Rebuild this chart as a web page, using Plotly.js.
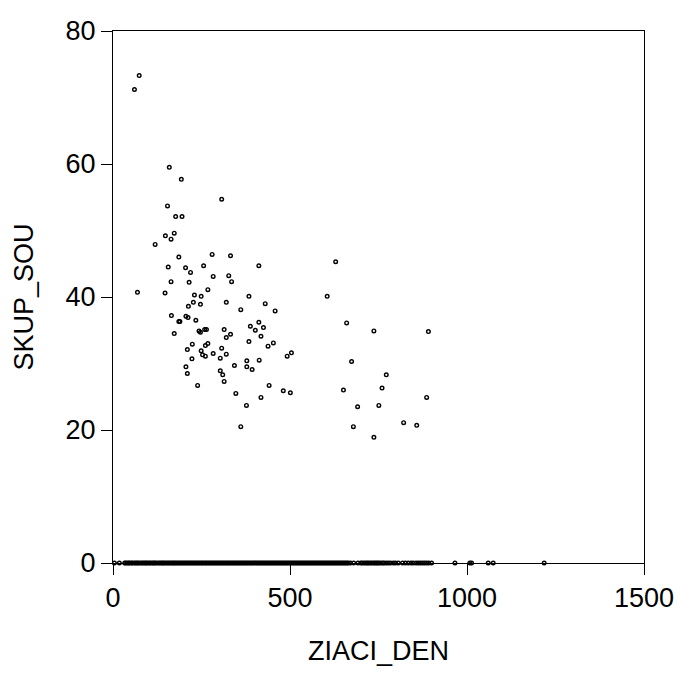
<!DOCTYPE html>
<html>
<head>
<meta charset="utf-8">
<script src="https://cdn.plot.ly/plotly-3.0.1.min.js"></script>
<style>html,body{margin:0;padding:0;background:#fff;}</style>
</head>
<body>
<div id="chart" style="width:677px;height:696px;"></div>
<script>
// Non-zero observations (ZIACI_DEN, SKUP_SOU)
const ziaciDen = [60.6,74,69,159,193,307,154,177,195,173,148,164,119,186,280,332,629,156,205,256,412,219,283,327,164,215,335,268,147,230,249,384,605,227,320,430,213,247,361,458,165,206,212,186,189,234,412,660,388,425,402,259,264,243,247,314,737,891,173,332,418,320,384,268,224,453,261,438,307,210,249,283,320,253,504,261,492,303,223,413,378,674,343,206,378,393,303,772,210,310,314,239,441,760,651,481,501,347,418,886,377,691,751,821,858,361,679,737];
const skupSou = [71.2,73.3,40.7,59.5,57.7,54.7,53.7,52.1,52.1,49.6,49.2,48.7,47.9,46.0,46.4,46.2,45.3,44.5,44.4,44.7,44.7,43.7,43.1,43.2,42.3,42.2,42.3,41.1,40.6,40.3,40.1,40.1,40.1,39.2,39.2,39.0,38.6,38.9,38.1,37.9,37.2,37.1,36.9,36.3,36.3,36.5,36.2,36.1,35.6,35.4,35.0,35.1,35.1,34.9,34.7,35.1,34.9,34.8,34.5,34.4,34.1,33.9,33.3,33.0,32.9,33.1,32.7,32.6,32.3,32.1,31.9,31.5,31.4,31.3,31.6,31.1,31.1,30.8,30.7,30.5,30.4,30.3,29.7,29.5,29.5,29.1,28.9,28.3,28.5,28.3,27.3,26.7,26.7,26.3,26.0,25.9,25.6,25.5,24.9,24.9,23.7,23.5,23.7,21.1,20.7,20.5,20.5,18.9];
// Observations with SKUP_SOU = 0
const ziaciDenZero = [4,18,33,36,40,44,47,52,55,60,64,68,71,76,80,84,88,92,95,99,103,107,111,115,118,122,127,131,135,139,142,146,150,154,158,162,166,170,173,177,181,185,189,193,197,201,205,209,213,217,221,225,229,233,237,241,245,249,253,257,261,265,269,273,277,281,285,289,293,297,301,305,309,313,317,321,325,329,333,337,341,345,349,353,357,361,365,369,373,377,381,385,389,393,397,401,405,409,413,417,421,425,429,433,437,441,445,449,453,457,461,465,469,473,477,481,485,489,493,497,501,505,509,513,517,521,525,529,533,537,541,545,549,553,557,561,565,569,573,577,581,585,589,593,597,601,605,609,613,617,621,625,629,633,637,641,645,649,653,657,661,665,671,680,692,700,704,709,714,718,722,727,731,736,740,744,748,752,757,762,766,772,778,784,792,798,806,818,826,834,842,848,856,862,868,874,880,886,892,900,966,1008,1013,1060,1074,1218];
const skupSouZero = ziaciDenZero.map(() => 0);

const xTicks = [0,500,1000,1500];
const yTicks = [0,20,40,60,80];

const allX = ziaciDen.concat(ziaciDenZero);
const allY = skupSou.concat(skupSouZero);

const font = {family: 'Liberation Sans, Arial, sans-serif', color: '#000'};

Plotly.newPlot('chart', [{
  type: 'scatter', mode: 'markers',
  x: allX, y: allY,
  marker: {symbol: 'circle-open', size: 3.6, color: '#000', line: {width: 1.4, color: '#000'}},
  cliponaxis: false,
  hoverinfo: 'x+y'
}], {
  width: 677, height: 696,
  margin: {l: 113, r: 33, t: 31, b: 133},
  paper_bgcolor: '#fff', plot_bgcolor: '#fff',
  showlegend: false,
  font: Object.assign({size: 27}, font),
  xaxis: {
    range: [0, 1500], tickvals: xTicks, ticktext: xTicks.map(String),
    ticks: 'outside', ticklen: 11, tickwidth: 1, tickcolor: '#000',
    showline: true, linecolor: '#000', linewidth: 1, mirror: true,
    showgrid: false, zeroline: false,
    tickfont: Object.assign({size: 27}, font),
    title: {text: 'ZIACI_DEN', font: Object.assign({size: 27}, font), standoff: 28}
  },
  yaxis: {
    range: [0, 80], tickvals: yTicks, ticktext: yTicks.map(String),
    ticks: 'outside', ticklen: 11, tickwidth: 1, tickcolor: '#000',
    showline: true, linecolor: '#000', linewidth: 1, mirror: true,
    showgrid: false, zeroline: false,
    tickfont: Object.assign({size: 27}, font),
    title: {text: 'SKUP_SOU', font: Object.assign({size: 27}, font), standoff: 24}
  }
}, {displayModeBar: false, staticPlot: true});
</script>
</body>
</html>
